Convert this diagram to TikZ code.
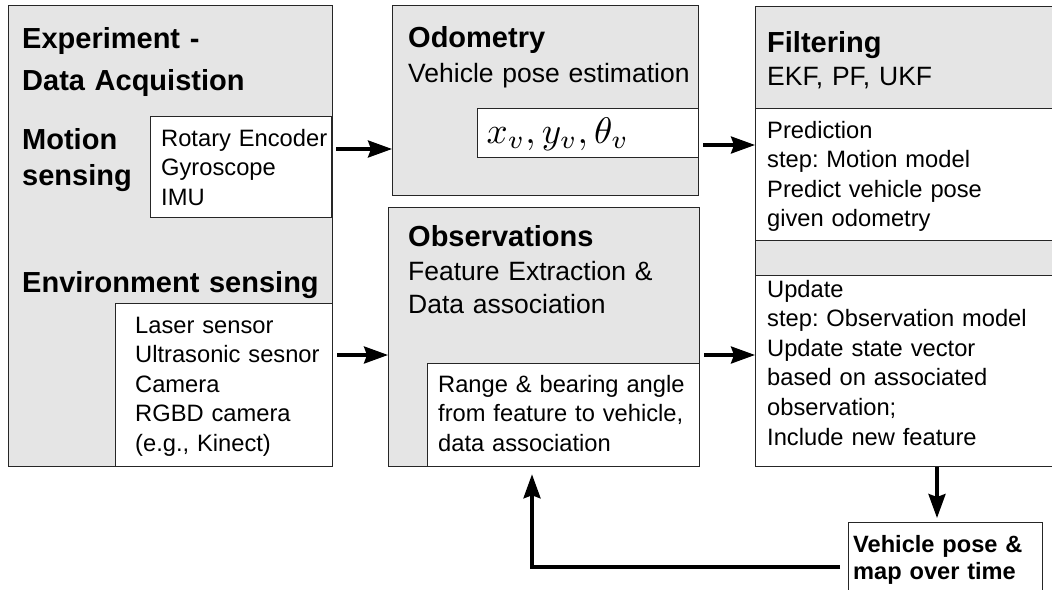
\documentclass[tikz,border=0pt]{standalone}
\usepackage{fontspec}
\setmainfont{Liberation Sans}
\usetikzlibrary{arrows.meta}

\tikzset{
  panel/.style={draw=black!85, line width=1.3pt, fill=black!10, inner sep=0pt, anchor=north west},
  inset/.style={panel, fill=white},
  title/.style={font=\bfseries\fontsize{29}{36}\selectfont, anchor=base west, inner sep=0pt, align=left, text width=330pt},
  subtitle/.style={font=\fontsize{26.5}{33}\selectfont, anchor=base west, inner sep=0pt, align=left, text width=300pt},
  body/.style={font=\fontsize{23.7}{29.6}\selectfont\frenchspacing, anchor=base west, inner sep=0pt, align=left, text width=300pt},
  arr/.style={-{Stealth[length=24pt,width=17pt,inset=3pt]}, line width=3.3pt}
}

\begin{document}
\begin{tikzpicture}[x=1pt,y=-1pt,line join=miter]
\useasboundingbox (0,0) rectangle (1052,589);
\clip (0,0) rectangle (1052,589);

% sensors
\node[panel, minimum width=324pt, minimum height=461pt] (exp) at (8,5) {};
\node[inset, minimum width=181pt, minimum height=101pt] (motion) at (150,116) {};
\node[inset, minimum width=217pt, minimum height=163pt] (env) at (115,303) {};
\node[title] (exp-t) at (22,48) {Experiment -\\[6pt]Data Acquistion};
\node[title] (motion-t) at (22,149) {Motion\\sensing};
\node[title] (env-t) at (22,292) {Environment sensing};
\node[body] (motion-l) at (161,146) {Rotary Encoder\\Gyroscope\\IMU};
\node[body] (env-l) at (135,333) {Laser sensor\\Ultrasonic sesnor\\Camera\\RGBD camera\\(e.g., Kinect)};

% odometry and observations
\node[panel, minimum width=306pt, minimum height=190pt] (odo) at (392,5) {};
\node[inset, minimum width=221pt, minimum height=49pt] (pose) at (477,108) {};
\node[title] (odo-t) at (408,47) {Odometry};
\node[subtitle] (odo-s) at (408,82) {Vehicle pose estimation};
\node[anchor=base west, inner sep=0pt, scale=3.7] (pose-l) at (486,143) {$x_v, y_v, \theta_v$};

\node[panel, minimum width=311pt, minimum height=259pt] (obs) at (388,207) {};
\node[inset, minimum width=272pt, minimum height=103pt] (range) at (427,363) {};
\node[title] (obs-t) at (408,246) {Observations};
\node[subtitle] (obs-s) at (408,280) {Feature Extraction \&\\Data association};
\node[body] (range-l) at (438,392) {Range \& bearing angle\\from feature to vehicle,\\data association};

% filter
\node[panel, minimum width=309pt, minimum height=460pt] (filt) at (755,6) {};
\node[inset, minimum width=309pt, minimum height=132pt] (pred) at (755,108) {};
\node[inset, minimum width=309pt, minimum height=191pt] (upd) at (755,275) {};
\node[title] (filt-t) at (767,52) {Filtering};
\node[subtitle] (filt-s) at (767,85) {EKF, PF, UKF};
\node[body] (pred-l) at (767,138) {Prediction\\step: Motion model\\Predict vehicle pose\\given odometry};
\node[body] (upd-l) at (767,297) {Update\\step: Observation model\\Update state vector\\based on associated\\observation;\\Include new feature};

% result
\node[inset, minimum width=194pt, minimum height=80pt] (out) at (848,522) {};
\node[title, font=\bfseries\fontsize{23.6}{27}\selectfont] (out-t) at (853,552) {Vehicle pose \&\\map over time};

% flow
\draw[arr, shorten <=4pt] (motion.east |- 0,149) -- (odo.west |- 0,149);
\draw[arr, shorten <=4pt] (pose.east |- 0,145) -- (filt.west |- 0,145);
\draw[arr, shorten <=4pt] (env.east |- 0,355) -- (obs.west |- 0,355);
\draw[arr, shorten <=4pt] (obs.east |- 0,355) -- (upd.west |- 0,355);
\draw[arr, shorten >=4pt] (upd.south -| 937,0) -- (out.north -| 937,0);
\draw[arr, shorten <=8pt, shorten >=7pt] (out.west |- 0,567) -| (obs.south -| 532,0);
\end{tikzpicture}
\end{document}
